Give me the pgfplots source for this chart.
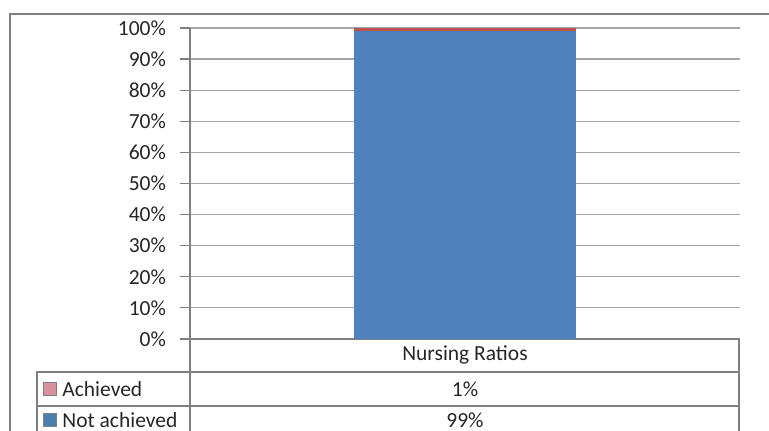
\documentclass[border=0pt]{standalone}
\usepackage{fontspec}
\setmainfont{Carlito}
\usepackage{pgfplots}
\pgfplotsset{compat=1.18}

\definecolor{barblue}{HTML}{4F81BD}
\definecolor{barred}{HTML}{C0504D}
\definecolor{keypink}{HTML}{D9919E}
\definecolor{keyblue}{HTML}{4A7EAE}
\definecolor{gridgray}{HTML}{A6A6A6}
\definecolor{linegray}{HTML}{7F7F7F}

\begin{document}
\begin{tikzpicture}[font=\fontsize{10.75}{12}\selectfont]
\path[use as bounding box, clip] (-95pt,-46pt) rectangle (289.5pt,169.5pt);
\begin{axis}[
  at={(0,0)}, anchor=south west,
  scale only axis,
  width=275pt, height=155.5pt,
  ybar stacked,
  bar width=110.5pt,
  xmin=-0.5, xmax=0.5,
  ymin=0, ymax=100,
  xtick=\empty,
  ytick={0,10,...,100},
  yticklabel={\pgfmathprintnumber{\tick}\%},
  /pgf/number format/assume math mode=true,
  tick label style={font=\fontsize{10.75}{12}\selectfont, text=black!85},
  yticklabel style={xshift=-3.5pt},
  axis x line*=bottom, axis y line*=left,
  axis line style={-, draw=linegray, line width=0.7pt},
  tick align=outside,
  major tick length=5pt,
  major tick style={draw=linegray, line width=0.6pt},
  ymajorgrids,
  major grid style={draw=gridgray, line width=0.6pt},
  xtick style={draw=none},
  clip=false,
]
  \addplot[fill=barblue, draw=none] coordinates {(0,99)};
  \addplot[fill=barred, draw=none] coordinates {(0,1)};
\end{axis}
% data table below the plot
\begin{scope}[draw=linegray, line width=0.7pt]
  \draw (0,0) -- (0,-50pt);
  \draw (274.5pt,0) -- (274.5pt,-50pt);
  \draw (-76.5pt,-50pt) -- (-76.5pt,-16.5pt) -- (274.5pt,-16.5pt);
  \draw (-76.5pt,-33.5pt) -- (274.5pt,-33.5pt);
  \draw (-90pt,-60pt) -- (-90pt,162.5pt) -- (400pt,162.5pt);
\end{scope}
\node[text=black!85] at (137.5pt,-8pt) {Nursing Ratios};
\node[text=black!85] at (137.5pt,-25pt) {1\%};
\node[text=black!85] at (137.5pt,-40.5pt) {99\%};
\fill[keypink, draw=linegray, line width=0.4pt] (-73.5pt,-28.2pt) rectangle (-67pt,-21.7pt);
\node[anchor=west, text=black!85, inner sep=0pt] at (-64pt,-25pt) {Achieved};
\fill[keyblue, draw=linegray, line width=0.4pt] (-73.5pt,-43.5pt) rectangle (-67pt,-37pt);
\node[anchor=west, text=black!85, inner sep=0pt] at (-64pt,-40.5pt) {Not achieved};
\end{tikzpicture}
\end{document}
